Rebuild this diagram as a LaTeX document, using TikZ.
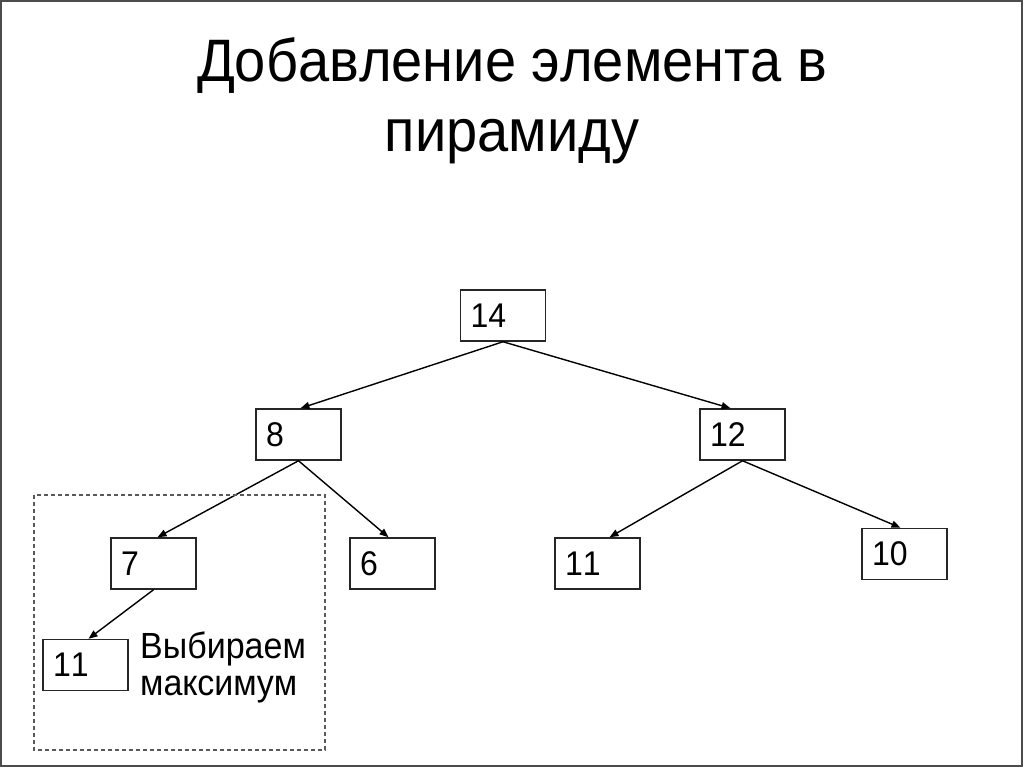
\documentclass[tikz,border=0pt]{standalone}
\usepackage{fontspec}
\setmainfont[Kerning=Off]{Liberation Sans}
\usepackage{graphicx}
\usepackage{tikz}
\usepackage{xcolor}
\usetikzlibrary{arrows.meta}
\newcommand{\tall}[1]{\scalebox{1}[1.07]{#1}}
\tikzstyle{heapbox} = [draw=black!85,line width=1.5pt,rectangle,
  minimum width=85pt,minimum height=51pt,text width=65pt,align=left,
  inner xsep=10pt,font=\fontsize{32pt}{35pt}\selectfont]
\tikzstyle{heaplink} = [line width=1.4pt,-{Triangle[length=9pt,width=7pt]}]
\tikzstyle{slidetitle} = [align=center,font=\fontsize{56pt}{70pt}\selectfont]

\begin{document}
\begin{tikzpicture}[x=1pt,y=-1pt]
    \useasboundingbox (0,0) rectangle (1024,768);
    \draw [black!70,line width=1.5pt] (1,1) rectangle (1022,766);
    \node [slidetitle,anchor=base] (title) at (512,151) {%
      \tall{Добавление элемента в}\\\tall{пирамиду}};
    % the heap
    \node [heapbox] (n14) at (503,315.5) {\tall{14}};
    \node [heapbox] (n8) at (298.5,434.5) {\tall{8}};
    \node [heapbox] (n12) at (742.5,434.5) {\tall{12}};
    \node [heapbox] (n7) at (153.5,563.5) {\tall{7}};
    \node [heapbox] (n6) at (392.5,563.5) {\tall{6}};
    \node [heapbox] (n11a) at (597.5,563.5) {\tall{11}};
    \node [heapbox] (n10) at (904.5,554) {\tall{10}};
    \node [heapbox] (n11b) at (85.5,665) {\tall{11}};
    \draw [heaplink] (n14.south) -- ([xshift=2pt]n8.north);
    \draw [heaplink] (n14.south) -- ([xshift=-12pt]n12.north);
    \draw [heaplink] (n8.south) -- ([xshift=4pt]n7.north);
    \draw [heaplink] (n8.south) -- ([xshift=-4pt]n6.north);
    \draw [heaplink] (n12.south) -- ([xshift=12pt]n11a.north);
    \draw [heaplink] (n12.south) -- ([xshift=-4pt]n10.north);
    \draw [heaplink] (n7.south) -- ([xshift=3pt]n11b.north);
    % new element
    \draw [black!65,line width=1.2pt,dash pattern=on 4pt off 3pt]
      (34,495) rectangle (325,750);
    \node [align=left,anchor=base west,inner sep=0pt,
      font=\fontsize{34pt}{37pt}\selectfont] (note) at (140,695) {%
      \tall{Выбираем}\\\tall{максимум}};
  \end{tikzpicture}
\end{document}
